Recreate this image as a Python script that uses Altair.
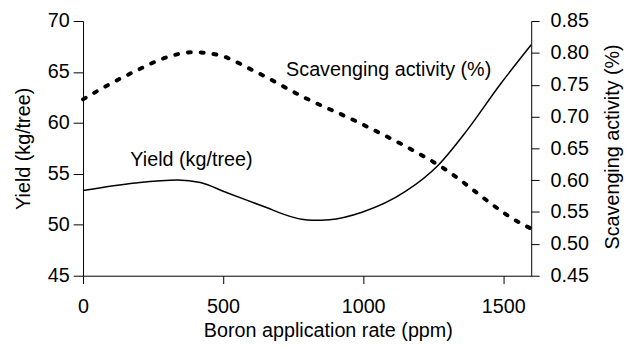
import altair as alt
import pandas as pd

# Yield (kg/tree) vs boron rate
yield_x = [0, 186, 338, 419, 514, 655, 720, 780, 820, 880, 996, 1151, 1268, 1370, 1489, 1600]
yield_v = [53.36, 54.1, 54.4, 54.14, 53.14, 51.69, 51.0, 50.55, 50.45, 50.5, 51.23, 53.27, 55.85, 59.24, 63.77, 67.67]

# Scavenging activity (%) vs boron rate
scav_x = [0, 92, 190, 292, 391, 480, 609, 785, 982, 1268, 1581, 1600]
scav_v = [0.727, 0.750, 0.772, 0.792, 0.801, 0.797, 0.772, 0.731, 0.691, 0.624, 0.528, 0.524]

# In-plot labels
label_text = ["Yield (kg/tree)", "Scavenging activity (%)"]
label_x = [169, 725]
label_y = [55.76, 64.57]

yield_df = pd.DataFrame({"x": yield_x, "v": yield_v})
scav_df = pd.DataFrame({"x": scav_x, "v": scav_v})
lab_df = pd.DataFrame({"x": label_x, "v": label_y, "t": label_text})

FONT = "Liberation Sans"
common = dict(labelFont=FONT, titleFont=FONT, labelColor="black", titleColor="black",
              domainColor="black", tickColor="black", domainWidth=1, tickWidth=1,
              titleFontWeight="normal", labelFontSize=20, titleFontSize=20, grid=False)

xenc = alt.X("x:Q", scale=alt.Scale(domain=[0, 1600], nice=False, zero=False),
             axis=alt.Axis(title="Boron application rate (ppm)", values=[0, 500, 1000, 1500],
                           format="d", tickSize=8, labelPadding=13,
                           titleX=248, titleY=56, titleAlign="center", titleBaseline="middle",
                           labelFlush=False, **common))

yleft = alt.Y("v:Q", scale=alt.Scale(domain=[45, 70], nice=False, zero=False),
              axis=alt.Axis(title="Yield (kg/tree)", values=[45, 50, 55, 60, 65, 70],
                            tickSize=10, labelPadding=4, titlePadding=14, **common))

yield_line = alt.Chart(yield_df).mark_line(
    color="black", strokeWidth=1.5, interpolate="monotone"
).encode(x=xenc, y=yleft)

labels = alt.Chart(lab_df).mark_text(
    align="left", baseline="alphabetic", font=FONT, fontSize=20, color="black"
).encode(x=alt.X("x:Q"), y=alt.Y("v:Q"), text="t:N")

left_layer = alt.layer(yield_line, labels)

scav_line = alt.Chart(scav_df).mark_line(
    color="black", strokeWidth=4, strokeDash=[3, 10], strokeCap="round", interpolate="monotone"
).encode(
    x=alt.X("x:Q"),
    y=alt.Y("v:Q", scale=alt.Scale(domain=[0.45, 0.85], nice=False, zero=False),
            axis=alt.Axis(title="Scavenging activity (%)", orient="right", format=".2f",
                          values=[0.45, 0.5, 0.55, 0.6, 0.65, 0.7, 0.75, 0.8, 0.85],
                          tickSize=8, labelPadding=11,
                          titleAngle=270, titleX=82, titleY=127,
                          titleAlign="center", titleBaseline="middle", **common))
)

chart = alt.layer(left_layer, scav_line).resolve_scale(y="independent").properties(
    width=454, height=258,
    background="white",
    autosize=alt.AutoSizeParams(type="none"),
    padding={"left": 76, "top": 11, "right": 95, "bottom": 68},
).configure_view(stroke=None)

chart.save("out.html", embed_options={"renderer": "svg", "actions": False})
